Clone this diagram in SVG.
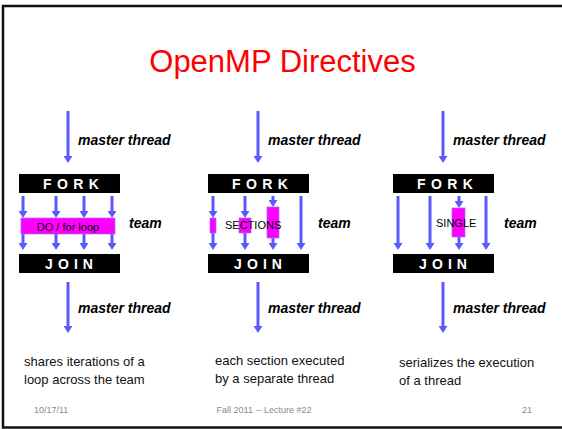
<svg xmlns="http://www.w3.org/2000/svg" width="562" height="429" viewBox="0 0 562 429">
<defs>
<style>
.mt{font-family:"Liberation Sans",Arial,sans-serif;font-weight:bold;font-style:italic;font-size:14px;fill:#000}
.bar{fill:#000}
.bt{font-family:"Liberation Sans",Arial,sans-serif;font-weight:bold;font-size:14px;fill:#fff}
.box{fill:#ff00ff;stroke:#9a70ff;stroke-width:0.7}
.lbl{font-family:"Liberation Sans",Arial,sans-serif;font-size:11px;fill:#000}
.desc{font-family:"Liberation Sans",Arial,sans-serif;font-size:13px;fill:#111}
.foot{font-family:"Liberation Sans",Arial,sans-serif;font-size:9px;fill:#8a8a8a}
.ar{stroke:#5a5aff;stroke-width:3;fill:none;marker-end:url(#ah)}
</style>
<marker id="ah" markerUnits="userSpaceOnUse" markerWidth="9" markerHeight="9" refX="2" refY="0" viewBox="0 -4.5 7 9" orient="auto">
<path d="M0,-4.5 L7,0 L0,4.5 z" fill="#5a5aff"/>
</marker>
</defs>
<rect width="562" height="429" fill="#fff"/>
<path d="M562,6 L3,6 L3,427.5 L562,427.5" fill="none" stroke="#111" stroke-width="2.5"/>
<text x="282.5" y="72" text-anchor="middle" font-family="'Liberation Sans',Arial,sans-serif" font-size="31" fill="#ff0000">OpenMP Directives</text>

<g id="connectors">
<line class="ar" x1="68" y1="111" x2="68" y2="158"/>
<line class="ar" x1="68" y1="282" x2="68" y2="328"/>
<line class="ar" x1="23" y1="196" x2="23" y2="213"/>
<line class="ar" x1="56" y1="196" x2="56" y2="213"/>
<line class="ar" x1="84" y1="196" x2="84" y2="213"/>
<line class="ar" x1="112" y1="196" x2="112" y2="213"/>
<line class="ar" x1="23" y1="234" x2="23" y2="245"/>
<line class="ar" x1="56" y1="234" x2="56" y2="245"/>
<line class="ar" x1="84" y1="234" x2="84" y2="245"/>
<line class="ar" x1="112" y1="234" x2="112" y2="245"/>
<line class="ar" x1="258" y1="111" x2="258" y2="158"/>
<line class="ar" x1="258" y1="282" x2="258" y2="328"/>
<line class="ar" x1="213" y1="196" x2="213" y2="213"/>
<line class="ar" x1="245" y1="196" x2="245" y2="213"/>
<line class="ar" x1="273" y1="196" x2="273" y2="202"/>
<line class="ar" x1="301" y1="196" x2="301" y2="245"/>
<line class="ar" x1="213" y1="233" x2="213" y2="245"/>
<line class="ar" x1="245" y1="233" x2="245" y2="245"/>
<line class="ar" x1="273" y1="238" x2="273" y2="245"/>
<line class="ar" x1="443" y1="111" x2="443" y2="158"/>
<line class="ar" x1="443" y1="282" x2="443" y2="328"/>
<line class="ar" x1="398" y1="196" x2="398" y2="245"/>
<line class="ar" x1="430" y1="196" x2="430" y2="245"/>
<line class="ar" x1="459" y1="196" x2="459" y2="203"/>
<line class="ar" x1="486" y1="196" x2="486" y2="245"/>
<line class="ar" x1="459" y1="237" x2="459" y2="245"/>
</g>

<g id="panel1">
<text class="mt" x="78" y="145">master thread</text>
<g id="fork1"><rect class="bar" x="19" y="174" width="101" height="19"/><text class="bt" x="43" y="189" letter-spacing="5.4">FORK</text></g>
<g id="do-loop"><rect class="box" x="21" y="218" width="94" height="16"/><text class="lbl" x="68" y="230.5" text-anchor="middle" font-size="12.5">DO / for  loop</text></g>
<text class="mt" x="129" y="228">team</text>
<g id="join1"><rect class="bar" x="19" y="254" width="101" height="19"/><text class="bt" x="45" y="269" letter-spacing="5.1">JOIN</text></g>
<text class="mt" x="78" y="313">master thread</text>
<text class="desc" x="24" y="366">shares iterations of a</text>
<text class="desc" x="24" y="384">loop across the team</text>
</g>

<g id="panel2">
<text class="mt" x="268" y="145">master thread</text>
<g id="fork2"><rect class="bar" x="208" y="174" width="101" height="19"/><text class="bt" x="232" y="189" letter-spacing="5.4">FORK</text></g>
<g id="sections">
<rect class="box" x="210" y="218" width="6" height="15"/>
<rect class="box" x="239" y="218" width="12" height="15"/>
<rect class="box" x="267" y="207" width="12" height="31"/>
<text class="lbl" x="225" y="229">SECTIONS</text>
</g>
<text class="mt" x="318" y="228">team</text>
<g id="join2"><rect class="bar" x="208" y="254" width="101" height="19"/><text class="bt" x="234" y="269" letter-spacing="5.1">JOIN</text></g>
<text class="mt" x="268" y="313">master thread</text>
<text class="desc" x="215" y="365">each section executed</text>
<text class="desc" x="215" y="383">by a separate thread</text>
</g>

<g id="panel3">
<text class="mt" x="453" y="145">master thread</text>
<g id="fork3"><rect class="bar" x="393" y="174" width="101" height="19"/><text class="bt" x="417" y="189" letter-spacing="5.4">FORK</text></g>
<g id="single"><rect class="box" x="452" y="208" width="13" height="29"/><text class="lbl" x="436" y="227">SINGLE</text></g>
<text class="mt" x="504" y="228">team</text>
<g id="join3"><rect class="bar" x="393" y="254" width="101" height="19"/><text class="bt" x="419" y="269" letter-spacing="5.1">JOIN</text></g>
<text class="mt" x="453" y="313">master thread</text>
<text class="desc" x="399" y="367">serializes the execution</text>
<text class="desc" x="399" y="385">of a thread</text>
</g>

<g id="footer">
<text class="foot" x="34" y="413">10/17/11</text>
<text class="foot" x="264" y="413" text-anchor="middle" font-size="8.5">Fall 2011 -- Lecture #22</text>
<text class="foot" x="522" y="413">21</text>
</g>
</svg>
